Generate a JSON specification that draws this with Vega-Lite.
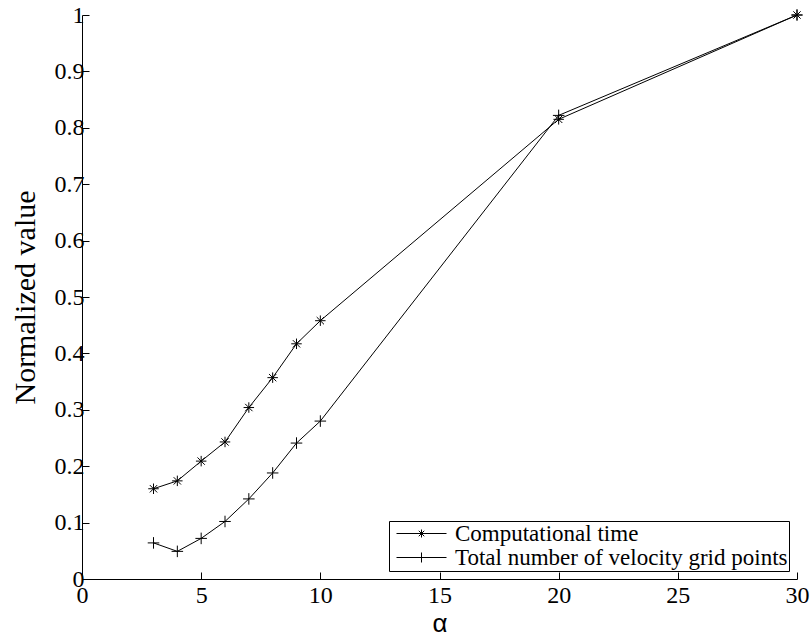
{
  "$schema": "https://vega.github.io/schema/vega-lite/v6.json",
  "width": 715,
  "height": 564,
  "autosize": "none",
  "padding": {"left": 82, "top": 15, "right": 14, "bottom": 60},
  "background": "white",
  "config": {
    "view": {"stroke": null},
    "font": "Liberation Serif",
    "axis": {
      "grid": false,
      "domainColor": "black",
      "domainWidth": 1,
      "tickColor": "black",
      "tickSize": -7,
      "labelColor": "black",
      "labelFont": "Liberation Serif",
      "labelFontSize": 24,
      "titleFont": "Liberation Serif",
      "titleFontWeight": "normal",
      "titleColor": "black"
    },
    "legend": {
      "labelFont": "Liberation Serif"
    },
    "text": {"font": "Liberation Serif"}
  },
  "data": {
    "values": [
      {"alpha": 3, "value": 0.160, "series": "Computational time"},
      {"alpha": 4, "value": 0.174, "series": "Computational time"},
      {"alpha": 5, "value": 0.209, "series": "Computational time"},
      {"alpha": 6, "value": 0.243, "series": "Computational time"},
      {"alpha": 7, "value": 0.304, "series": "Computational time"},
      {"alpha": 8, "value": 0.357, "series": "Computational time"},
      {"alpha": 9, "value": 0.417, "series": "Computational time"},
      {"alpha": 10, "value": 0.458, "series": "Computational time"},
      {"alpha": 20, "value": 0.815, "series": "Computational time"},
      {"alpha": 30, "value": 1.0, "series": "Computational time"},
      {"alpha": 3, "value": 0.064, "series": "Total number of velocity grid points"},
      {"alpha": 4, "value": 0.049, "series": "Total number of velocity grid points"},
      {"alpha": 5, "value": 0.072, "series": "Total number of velocity grid points"},
      {"alpha": 6, "value": 0.102, "series": "Total number of velocity grid points"},
      {"alpha": 7, "value": 0.142, "series": "Total number of velocity grid points"},
      {"alpha": 8, "value": 0.188, "series": "Total number of velocity grid points"},
      {"alpha": 9, "value": 0.241, "series": "Total number of velocity grid points"},
      {"alpha": 10, "value": 0.280, "series": "Total number of velocity grid points"},
      {"alpha": 20, "value": 0.822, "series": "Total number of velocity grid points"},
      {"alpha": 30, "value": 1.0, "series": "Total number of velocity grid points"}
    ]
  },
  "encoding": {
    "x": {
      "field": "alpha",
      "type": "quantitative",
      "scale": {"domain": [0, 30], "nice": false, "zero": false},
      "axis": {
        "values": [0, 5, 10, 15, 20, 25, 30],
        "format": "~g",
        "title": "α",
        "titleFont": "Liberation Sans",
        "titleFontSize": 26,
        "titlePadding": 3,
        "labelFont": "Liberation Serif",
        "labelFontSize": 24,
        "labelPadding": 11,
        "labelFlush": false
      }
    },
    "y": {
      "field": "value",
      "type": "quantitative",
      "scale": {"domain": [0, 1], "nice": false},
      "axis": {
        "values": [0, 0.1, 0.2, 0.3, 0.4, 0.5, 0.6, 0.7, 0.8, 0.9, 1],
        "format": "~g",
        "title": "Normalized value",
        "titleFont": "Liberation Serif",
        "titleFontSize": 30,
        "titlePadding": 14,
        "labelFont": "Liberation Serif",
        "labelFontSize": 24,
        "labelPadding": 5,
        "labelFlush": false
      }
    }
  },
  "resolve": {"scale": {"shape": "independent"}},
  "layer": [
    {
      "mark": {"type": "line", "color": "black", "strokeWidth": 1},
      "encoding": {"detail": {"field": "series"}}
    },
    {
      "mark": {"type": "point", "filled": false, "color": "black", "strokeWidth": 1, "size": 110, "opacity": 1},
      "encoding": {
        "shape": {
          "field": "series",
          "type": "nominal",
          "scale": {
            "domain": ["Computational time", "Total number of velocity grid points"],
            "range": [
              "M-1,0L1,0M0,-1L0,1M-0.7,-0.7L0.7,0.7M-0.7,0.7L0.7,-0.7",
              "M-1.1,0L1.1,0M0,-1.1L0,1.1"
            ]
          },
          "legend": null
        }
      }
    },
    {
      "transform": [{"filter": "datum.alpha < 0"}],
      "mark": {"type": "point", "filled": false, "color": "black", "strokeWidth": 1, "size": 100, "opacity": 1},
      "encoding": {
        "shape": {
          "field": "series",
          "type": "nominal",
          "scale": {
            "domain": ["Computational time", "Total number of velocity grid points"],
            "range": [
              "M-1,0L9,0M3.2,0L4.8,0M4,-0.8L4,0.8M3.45,-0.55L4.55,0.55M3.45,0.55L4.55,-0.55",
              "M-1,0L9,0M3,0L5,0M4,-1L4,1"
            ]
          },
          "legend": {
            "title": null,
            "orient": "bottom-right",
            "offset": 8,
            "padding": 1,
            "rowPadding": -5,
            "strokeColor": "black",
            "fillColor": "white",
            "labelFont": "Liberation Serif",
            "labelFontSize": 23,
            "labelColor": "black",
            "labelLimit": 600,
            "labelOffset": 42,
            "symbolSize": 100,
            "symbolStrokeColor": "black",
            "symbolStrokeWidth": 1,
            "symbolFillColor": "transparent"
          }
        }
      }
    }
  ]
}
